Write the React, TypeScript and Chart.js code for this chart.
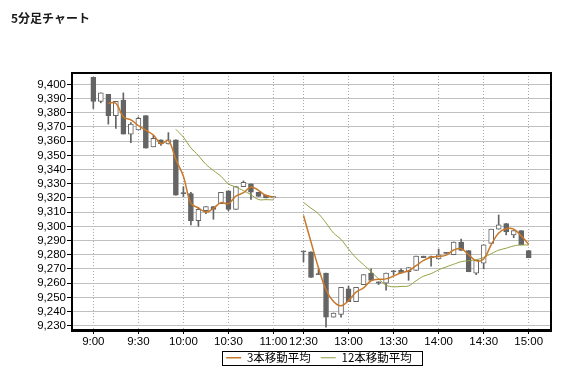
import React, { useEffect, useRef } from 'react';
import { Chart, registerables } from 'chart.js';

Chart.register(...registerables);

const TITLE = '5分足チャート';

const times = [
  '9:00', '9:05', '9:10', '9:15', '9:20', '9:25', '9:30', '9:35', '9:40', '9:45', '9:50', '9:55',
  '10:00', '10:05', '10:10', '10:15', '10:20', '10:25', '10:30', '10:35', '10:40', '10:45', '10:50', '10:55', '11:00',
  '12:30', '12:35', '12:40', '12:45', '12:50', '12:55', '13:00', '13:05', '13:10', '13:15', '13:20', '13:25',
  '13:30', '13:35', '13:40', '13:45', '13:50', '13:55', '14:00', '14:05', '14:10', '14:15', '14:20', '14:25',
  '14:30', '14:35', '14:40', '14:45', '14:50', '14:55', '15:00',
];

const opens = [
  9405, 9388, 9393, 9378, 9389, 9365, 9368, 9378, 9356, 9361, 9358, 9361,
  9323, 9323, 9304, 9311, 9314, 9316, 9325, 9312, 9328, 9330, 9324, 9322, 9320,
  9282, 9282, 9266, 9267, 9236, 9238, 9256, 9247, 9259, 9267, 9261, 9260,
  9268, 9269, 9268, 9269, 9279, 9278, 9277, 9281, 9280, 9289, 9283, 9267,
  9274, 9288, 9298, 9302, 9294, 9297, 9283,
];
const highs = [
  9405, 9394, 9393, 9388, 9394, 9373, 9377, 9378, 9364, 9361, 9366, 9361,
  9328, 9324, 9313, 9314, 9314, 9324, 9325, 9328, 9332, 9330, 9324, 9322, 9321,
  9282, 9282, 9270, 9267, 9239, 9257, 9258, 9257, 9266, 9270, 9261, 9267,
  9269, 9270, 9271, 9279, 9279, 9279, 9284, 9281, 9289, 9291, 9283, 9276,
  9287, 9298, 9308, 9302, 9297, 9297, 9283,
];
const lows = [
  9383, 9387, 9372, 9369, 9365, 9359, 9368, 9355, 9356, 9357, 9358, 9322,
  9321, 9301, 9300, 9309, 9305, 9316, 9311, 9312, 9328, 9319, 9321, 9320, 9320,
  9275, 9264, 9266, 9229, 9236, 9236, 9247, 9247, 9259, 9262, 9259, 9255,
  9266, 9267, 9262, 9269, 9278, 9272, 9277, 9281, 9280, 9283, 9268, 9266,
  9270, 9288, 9298, 9294, 9292, 9287, 9278,
];
const closes = [
  9388, 9394, 9378, 9388, 9365, 9372, 9376, 9355, 9362, 9358, 9361, 9322,
  9323, 9304, 9312, 9314, 9312, 9324, 9312, 9328, 9331, 9324, 9321, 9320, 9321,
  9282, 9264, 9266, 9236, 9239, 9257, 9247, 9257, 9266, 9262, 9260, 9267,
  9268, 9267, 9271, 9279, 9278, 9278, 9280, 9281, 9289, 9283, 9268, 9276,
  9287, 9298, 9301, 9296, 9297, 9287, 9278,
];

const ma3Label = '3本移動平均';
const ma3 = [
  null, null, 9386.7, 9386.7, 9377.0, 9375.0, 9371.0, 9367.7, 9364.3, 9358.3, 9360.3, 9347.0,
  9335.3, 9316.3, 9313.0, 9310.0, 9312.7, 9316.7, 9316.0, 9321.3, 9323.7, 9327.7, 9325.3, 9321.7, 9320.7,
  9307.7, 9289.0, 9270.7, 9255.3, 9247.0, 9244.0, 9247.7, 9253.7, 9256.7, 9261.7, 9262.7, 9263.0,
  9265.0, 9267.3, 9268.7, 9272.3, 9276.0, 9278.3, 9278.7, 9279.7, 9283.3, 9284.3, 9280.0, 9275.7,
  9277.0, 9287.0, 9295.3, 9298.3, 9298.0, 9293.3, 9287.3,
];

const ma12Label = '12本移動平均';
const ma12 = [
  null, null, null, null, null, null, null, null, null, null, null, 9368.3,
  9362.8, 9355.3, 9349.8, 9343.7, 9339.3, 9335.3, 9329.9, 9327.7, 9325.1, 9322.3, 9318.9, 9318.8, 9318.6,
  9316.8, 9312.8, 9308.8, 9302.4, 9295.3, 9290.8, 9284.0, 9277.8, 9273.0, 9268.1, 9263.1, 9258.6,
  9257.4, 9257.7, 9258.1, 9261.7, 9264.9, 9266.7, 9269.4, 9271.4, 9273.3, 9275.1, 9275.8, 9276.5,
  9278.1, 9280.7, 9283.2, 9284.6, 9286.2, 9286.9, 9286.8,
];

const xTickTimes = ['9:00', '9:30', '10:00', '10:30', '11:00', '12:30', '13:00', '13:30', '14:00', '14:30', '15:00'];
const yTicks = [9230, 9240, 9250, 9260, 9270, 9280, 9290, 9300, 9310, 9320, 9330, 9340, 9350, 9360, 9370, 9380, 9390, 9400];

const Y_MIN = 9227;
const Y_MAX = 9408;
const X_MIN = -2.84;
const X_MAX = 60.97;
// the 90-minute lunch break is drawn as 4 slots instead of 18
const LUNCH_SKIP = 14;

const DOWN = '#646464';
const UP = '#ffffff';
const MA3_COLOR = '#c87828';
const MA12_COLOR = '#8fa040';
const TICK_FONT = { family: '"Liberation Sans", Arial, sans-serif', size: 11.5 };

function slotOf(t: string): number {
  const [h, m] = t.split(':').map(Number);
  const min = h * 60 + m;
  const s = (min - 540) / 5;
  return min <= 660 ? s : s - LUNCH_SKIP;
}

export default function App() {
  const ref = useRef<HTMLCanvasElement | null>(null);

  useEffect(() => {
    const canvas = ref.current;
    if (!canvas) return;
    const xs = times.map(slotOf);
    const bodyColors = closes.map((c, i) => (c > opens[i] ? UP : DOWN));
    const wickData = xs.map((x, i) => ({ x, y: [lows[i], highs[i]] }));
    const bodyData = xs.map((x, i) => ({ x, y: [opens[i], closes[i]] }));
    const lineData = (arr: (number | null)[]) => {
      const pts: any[] = [];
      xs.forEach((x, i) => {
        if (i > 0 && x - xs[i - 1] > 1) pts.push({ x: (x + xs[i - 1]) / 2, y: null });
        pts.push({ x, y: arr[i] });
      });
      return pts;
    };

    const decor = {
      id: 'decor',
      afterLayout(chart: any) {
        const lg = chart.legend;
        if (!lg) return;
        lg.top = 342;
        lg.bottom = 371;
        lg.height = 29;
        lg.left = 169;
        lg.right = 469;
        lg.width = 300;
      },
      beforeDatasetsDraw(chart: any) {
        const { ctx, chartArea: a } = chart;
        ctx.save();
        ctx.strokeStyle = '#000';
        ctx.lineWidth = 2;
        ctx.beginPath();
        ctx.moveTo(a.left - 1, a.top);
        ctx.lineTo(a.right, a.top);
        ctx.lineTo(a.right, a.bottom);
        ctx.stroke();
        ctx.restore();
      },
      afterDraw(chart: any) {
        const { ctx } = chart;
        ctx.save();
        const lg = chart.legend;
        if (lg && lg.legendHitBoxes && lg.legendHitBoxes.length) {
          const hb = lg.legendHitBoxes;
          const last = hb[hb.length - 1];
          const x0 = Math.round(hb[0].left) - 4;
          const x1 = Math.round(last.left + last.width) + 10;
          const y0 = Math.round(hb[0].top) - 1;
          ctx.strokeStyle = '#000';
          ctx.lineWidth = 1;
          ctx.strokeRect(x0 + 0.5, y0 + 0.5, x1 - x0, 14);
        }
        ctx.fillStyle = '#1a1a1a';
        ctx.font = 'bold 12px "Noto Sans CJK JP", sans-serif';
        ctx.textBaseline = 'middle';
        ctx.textAlign = 'left';
        ctx.fillText(TITLE, 11, 18);
        ctx.restore();
      },
    };

    const chart = new Chart(canvas, {
      type: 'bar',
      data: {
        datasets: [
          {
            type: 'line',
            label: ma3Label,
            data: lineData(ma3),
            borderColor: MA3_COLOR,
            backgroundColor: MA3_COLOR,
            borderWidth: 1.5,
            pointRadius: 0,
            tension: 0.4,
            spanGaps: false,
            order: 0,
          },
          {
            type: 'line',
            label: ma12Label,
            data: lineData(ma12),
            borderColor: MA12_COLOR,
            backgroundColor: MA12_COLOR,
            borderWidth: 1,
            pointRadius: 0,
            tension: 0.4,
            spanGaps: false,
            order: 0,
          },
          {
            type: 'bar',
            label: 'body',
            data: bodyData as any,
            backgroundColor: bodyColors,
            borderColor: DOWN,
            borderWidth: 1,
            borderSkipped: false,
            barThickness: 5,
            minBarLength: 1,
            grouped: false,
            order: 1,
          },
          {
            type: 'bar',
            label: 'wick',
            data: wickData as any,
            backgroundColor: DOWN,
            borderWidth: 0,
            barThickness: 1,
            minBarLength: 1,
            grouped: false,
            order: 2,
          },
        ],
      },
      options: {
        responsive: false,
        animation: false,
        devicePixelRatio: 1,
        events: [],
        layout: { padding: { top: 73, right: 13, bottom: 0, left: 0 } },
        plugins: {
          title: { display: false },
          tooltip: { enabled: false },
          legend: {
            display: true,
            position: 'bottom',
            maxHeight: 16,
            labels: {
              filter: (item: any) => item.datasetIndex < 2,
              usePointStyle: true,
              pointStyle: 'line',
              pointStyleWidth: 15,
              padding: 10,
              color: '#000',
              font: { family: '"Noto Sans CJK JP", sans-serif', size: 11.5 },
            },
          },
        },
        scales: {
          x: {
            type: 'linear',
            min: X_MIN,
            max: X_MAX,
            offset: false,
            afterBuildTicks: (s: any) => {
              s.ticks = xTickTimes.map((t) => ({ value: slotOf(t) }));
            },
            afterFit: (s: any) => {
              s.height = 25;
            },
            ticks: {
              autoSkip: false,
              maxRotation: 0,
              minRotation: 0,
              padding: 1,
              color: '#000',
              font: TICK_FONT,
              callback: (_v: any, i: number) => xTickTimes[i],
            },
            grid: { color: '#a8a8a8', lineWidth: 1, offset: false, tickLength: 4, tickColor: '#000' },
            border: { display: true, color: '#000', width: 3, dash: [1, 2] },
          },
          y: {
            type: 'linear',
            min: Y_MIN,
            max: Y_MAX,
            afterBuildTicks: (s: any) => {
              s.ticks = yTicks.map((v) => ({ value: v }));
            },
            afterFit: (s: any) => {
              s.width = 72;
            },
            ticks: {
              autoSkip: false,
              padding: 1,
              color: '#000',
              font: TICK_FONT,
              callback: (v: any) => Number(v).toLocaleString('en-US'),
            },
            grid: { color: '#c0c0c0', lineWidth: 1, tickLength: 5, tickColor: '#000' },
            border: { display: true, color: '#000', width: 2, dash: [] },
          },
        },
      } as any,
      plugins: [decor],
    });

    return () => chart.destroy();
  }, []);

  return (
    <canvas
      ref={ref}
      width={564}
      height={371}
      style={{ position: 'absolute', left: 0, top: 0, display: 'block', width: 564, height: 371 }}
    />
  );
}
